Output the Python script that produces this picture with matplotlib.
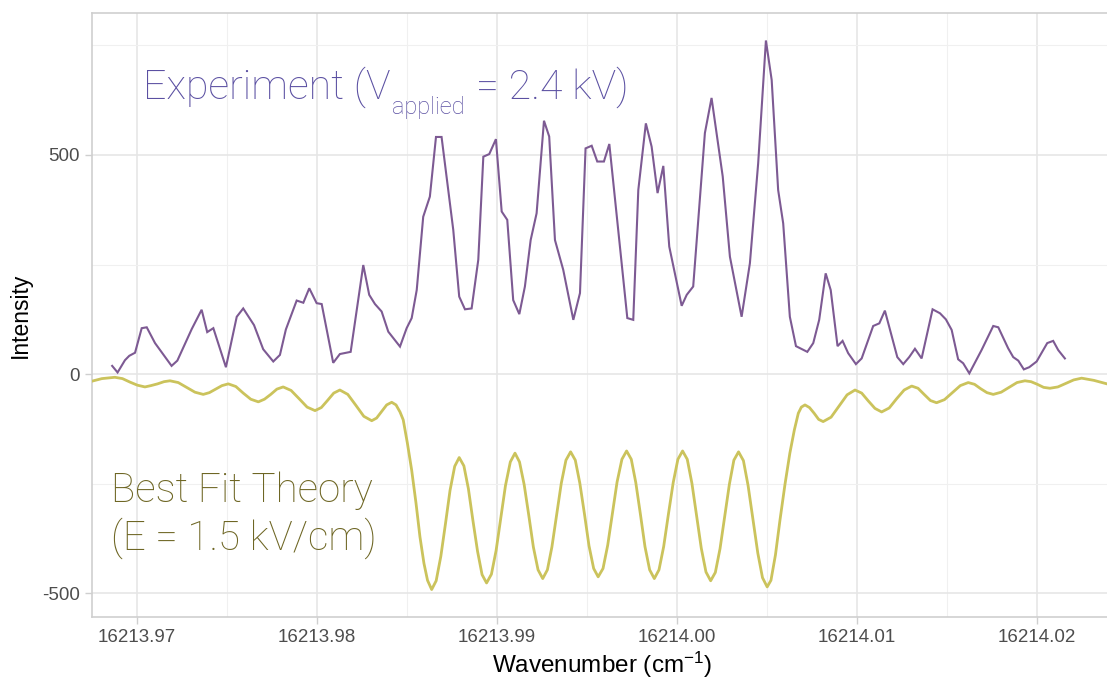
import matplotlib
matplotlib.use("Agg")
import matplotlib.pyplot as plt
from matplotlib.ticker import FixedLocator, FormatStrFormatter

# ---------------------------------------------------------------------------
# Data
# ---------------------------------------------------------------------------
exp_wavenumber = [
    16213.96864, 16213.96894, 16213.96935, 16213.96959, 16213.96991, 16213.97028,
    16213.97056, 16213.97102, 16213.97194, 16213.97226, 16213.97306, 16213.97361,
    16213.97392, 16213.97426, 16213.97496, 16213.97556, 16213.97592, 16213.97652,
    16213.97703, 16213.97759, 16213.97796, 16213.97829, 16213.97889, 16213.97926,
    16213.97959, 16213.98000, 16213.98028, 16213.98092, 16213.98129, 16213.98189,
    16213.98259, 16213.98292, 16213.98324, 16213.98361, 16213.98398, 16213.98463,
    16213.98500, 16213.98528, 16213.98556, 16213.98592, 16213.98629, 16213.98663,
    16213.98694, 16213.98759, 16213.98792, 16213.98824, 16213.98861, 16213.98898,
    16213.98926, 16213.98959, 16213.98996, 16213.99028, 16213.99059, 16213.99092,
    16213.99126, 16213.99157, 16213.99189, 16213.99222, 16213.99263, 16213.99292,
    16213.99324, 16213.99370, 16213.99426, 16213.99463, 16213.99494, 16213.99528,
    16213.99559, 16213.99596, 16213.99626, 16213.99685, 16213.99726, 16213.99759,
    16213.99787, 16213.99829, 16213.99861, 16213.99894, 16213.99926, 16213.99959,
    16214.00028, 16214.00056, 16214.00092, 16214.00157, 16214.00194, 16214.00256,
    16214.00296, 16214.00361, 16214.00407, 16214.00453, 16214.00496, 16214.00528,
    16214.00564, 16214.00592, 16214.00629, 16214.00663, 16214.00726, 16214.00759,
    16214.00792, 16214.00828, 16214.00856, 16214.00894, 16214.00922, 16214.00953,
    16214.00996, 16214.01028, 16214.01092, 16214.01126, 16214.01157, 16214.01226,
    16214.01259, 16214.01292, 16214.01324, 16214.01361, 16214.01422, 16214.01463,
    16214.01496, 16214.01528, 16214.01564, 16214.01592, 16214.01626, 16214.01694,
    16214.01759, 16214.01787, 16214.01842, 16214.01870, 16214.01898, 16214.01929,
    16214.01959, 16214.02000, 16214.02059, 16214.02092, 16214.02120, 16214.02157,
]
exp_intensity = [
    19, 4, 32, 42, 49, 105,
    107, 71, 19, 31, 103, 147,
    96, 105, 16, 131, 150, 112,
    57, 29, 44, 102, 168, 163,
    196, 162, 160, 26, 46, 51,
    249, 181, 160, 143, 97, 63,
    105, 128, 192, 359, 405, 541,
    541, 329, 177, 148, 150, 261,
    496, 502, 536, 371, 352, 169,
    137, 200, 306, 367, 578, 542,
    306, 238, 124, 185, 515, 521,
    485, 485, 525, 291, 128, 124,
    420, 572, 519, 413, 475, 291,
    156, 181, 200, 550, 630, 451,
    268, 131, 253, 481, 761, 671,
    420, 344, 131, 64, 51, 71,
    124, 230, 192, 64, 76, 48,
    23, 36, 110, 116, 145, 39,
    23, 39, 58, 36, 148, 139,
    125, 101, 34, 25, 2, 55,
    110, 107, 59, 39, 31, 11,
    16, 29, 71, 76, 55, 36,
]

theory_wavenumber = [
    16213.96741, 16213.96807, 16213.96879, 16213.96921, 16213.96963, 16213.97004,
    16213.97046, 16213.97079, 16213.97116, 16213.97152, 16213.97185, 16213.97231,
    16213.97278, 16213.97324, 16213.97370, 16213.97404, 16213.97439, 16213.97474,
    16213.97509, 16213.97551, 16213.97592, 16213.97634, 16213.97676, 16213.97710,
    16213.97745, 16213.97779, 16213.97814, 16213.97858, 16213.97903, 16213.97947,
    16213.97991, 16213.98026, 16213.98060, 16213.98095, 16213.98129, 16213.98173,
    16213.98218, 16213.98262, 16213.98306, 16213.98333, 16213.98361, 16213.98389,
    16213.98417, 16213.98441, 16213.98463, 16213.98481, 16213.98504, 16213.98528,
    16213.98552, 16213.98574, 16213.98596, 16213.98616, 16213.98639,
    16213.98664, 16213.98690, 16213.98716, 16213.98741, 16213.98767, 16213.98792,
    16213.98818, 16213.98843, 16213.98868, 16213.98894, 16213.98919, 16213.98944,
    16213.98971, 16213.98997, 16213.99023, 16213.99049, 16213.99076, 16213.99102,
    16213.99127, 16213.99153, 16213.99179, 16213.99204, 16213.99230, 16213.99256,
    16213.99282, 16213.99307, 16213.99333, 16213.99359, 16213.99385, 16213.99411,
    16213.99437, 16213.99462, 16213.99488, 16213.99513, 16213.99539, 16213.99564,
    16213.99591, 16213.99617, 16213.99643, 16213.99669, 16213.99696, 16213.99722,
    16213.99748, 16213.99773, 16213.99799, 16213.99824, 16213.99850, 16213.99876,
    16213.99902, 16213.99928, 16213.99954, 16213.99981, 16214.00007, 16214.00033,
    16214.00059, 16214.00085, 16214.00111, 16214.00137, 16214.00163, 16214.00189,
    16214.00215, 16214.00241, 16214.00267, 16214.00293, 16214.00318, 16214.00344,
    16214.00371, 16214.00397, 16214.00424, 16214.00451, 16214.00477, 16214.00503,
    16214.00524, 16214.00549, 16214.00574, 16214.00602, 16214.00629, 16214.00654,
    16214.00676, 16214.00693, 16214.00713,
    16214.00738, 16214.00764, 16214.00789, 16214.00814, 16214.00858, 16214.00903,
    16214.00947, 16214.00991, 16214.01028, 16214.01065, 16214.01102, 16214.01139,
    16214.01181, 16214.01222, 16214.01264, 16214.01306, 16214.01341, 16214.01375,
    16214.01410, 16214.01444, 16214.01488, 16214.01532, 16214.01576, 16214.01620,
    16214.01655, 16214.01689, 16214.01724, 16214.01759, 16214.01803, 16214.01847,
    16214.01891, 16214.01935, 16214.01969, 16214.02004, 16214.02039, 16214.02074,
    16214.02118, 16214.02162, 16214.02206, 16214.02250, 16214.02318, 16214.02391,
]
theory_intensity = [
    -17, -10, -7, -10, -18, -25,
    -29, -26, -22, -17, -15, -19,
    -30, -41, -46, -42, -34, -26,
    -22, -28, -43, -57, -63, -57,
    -46, -34, -29, -37, -56, -75,
    -83, -76, -60, -43, -36, -46,
    -71, -96, -106, -100, -85, -70,
    -64, -70, -86, -104, -157, -219,
    -294, -371, -431, -470, -491,
    -471, -415, -340, -265, -210, -190,
    -209, -261, -333, -404, -457, -476,
    -456, -402, -328, -254, -200, -180,
    -200, -252, -323, -394, -446, -466,
    -446, -394, -321, -249, -196, -177,
    -196, -248, -319, -391, -443, -462,
    -443, -390, -318, -246, -194, -175,
    -194, -247, -320, -393, -446, -466,
    -446, -393, -320, -247, -194, -175,
    -194, -249, -323, -397, -451, -471,
    -452, -398, -324, -251, -196, -177,
    -197, -254, -331, -408, -464, -485,
    -470, -412, -333, -251, -180, -127,
    -89, -75, -70,
    -76, -89, -103, -108, -98, -72,
    -47, -36, -43, -61, -78, -86,
    -77, -56, -36, -27, -32, -46,
    -60, -65, -58, -42, -26, -19,
    -23, -33, -42, -46, -41, -30,
    -19, -15, -17, -23, -30, -32,
    -29, -21, -13, -9, -14, -22,
]

x_breaks = [16213.97, 16213.98, 16213.99, 16214.00, 16214.01, 16214.02]
x_minor = [16213.975, 16213.985, 16213.995, 16214.005, 16214.015]
y_breaks = [-500, 0, 500]
y_minor = [-250, 250, 750]

EXP_COLOR = "#7d5a93"
THEORY_COLOR = "#cbc35c"
EXP_TEXT = "#5b50a2"
THEORY_TEXT = "#6e6624"

plt.rcParams["font.family"] = ["Liberation Sans", "DejaVu Sans"]
plt.rcParams["axes.unicode_minus"] = False
plt.rcParams["mathtext.fontset"] = "custom"
plt.rcParams["mathtext.rm"] = "Liberation Sans"
plt.rcParams["mathtext.it"] = "Liberation Sans:italic"

fig = plt.figure(figsize=(11.07, 6.82), dpi=100)
ax = fig.add_axes([0.0828, 0.0957, 0.9172, 0.8848])

ax.plot(theory_wavenumber, theory_intensity, color=THEORY_COLOR, lw=2.0,
        solid_joinstyle="round", zorder=3)
ax.plot(exp_wavenumber, exp_intensity, color=EXP_COLOR, lw=1.5,
        solid_joinstyle="miter", zorder=4)

ax.set_xlim(16213.9675, 16214.02391)
ax.set_ylim(-553, 823)

ax.xaxis.set_major_locator(FixedLocator(x_breaks))
ax.xaxis.set_minor_locator(FixedLocator(x_minor))
ax.yaxis.set_major_locator(FixedLocator(y_breaks))
ax.yaxis.set_minor_locator(FixedLocator(y_minor))
ax.xaxis.set_major_formatter(FormatStrFormatter("%.2f"))

ax.grid(which="major", color="#e6e6e6", lw=1.2, zorder=0)
ax.grid(which="minor", color="#f0f0f0", lw=0.8, zorder=0)
ax.set_axisbelow(True)

for side in ("left", "bottom", "top"):
    ax.spines[side].set_color("#cfcfcf")
    ax.spines[side].set_linewidth(1.2)
ax.spines["right"].set_visible(False)

ax.tick_params(which="major", length=5, width=1.0, color="#cfcfcf",
               labelsize=13.5, labelcolor="#4d4d4d", pad=3.5)
ax.tick_params(which="minor", length=0)

fig.text(20 / 1107, 1 - 315 / 682, "Intensity", rotation=90, ha="center",
         va="center", fontsize=16.5, color="black")
fig.text(602 / 1107, 1 - 665 / 682, r"Wavenumber (cm$^{-1}$)", ha="center",
         va="center", fontsize=17.5, color="black")

# Annotations (Roboto Light as in the reference)
anno_font = dict(family=["Roboto", "DejaVu Sans"], fontweight="light")

t1 = ax.text(0.0505, 0.858, "Experiment (V", transform=ax.transAxes,
             ha="left", va="baseline", fontsize=29.5, color=EXP_TEXT, **anno_font)
t2 = ax.annotate("applied", xy=(1.0, 0.0), xycoords=t1, xytext=(1, -4),
                 textcoords="offset points", ha="left", va="baseline",
                 fontsize=17, color=EXP_TEXT, **anno_font)
t3 = ax.annotate("= 2.4 kV)", xy=(1.0, 0.0), xycoords=(t2, t1), xytext=(8, 0),
                 textcoords="offset points", ha="left", va="bottom",
                 fontsize=29.5, color=EXP_TEXT, **anno_font)

ax.text(0.0190, 0.1906, "Best Fit Theory", transform=ax.transAxes,
        ha="left", va="baseline", fontsize=29, color=THEORY_TEXT, **anno_font)
ax.text(0.0190, 0.1105, "(E = 1.5 kV/cm)", transform=ax.transAxes,
        ha="left", va="baseline", fontsize=29, color=THEORY_TEXT, **anno_font)

fig.savefig("out.png", dpi=100)
